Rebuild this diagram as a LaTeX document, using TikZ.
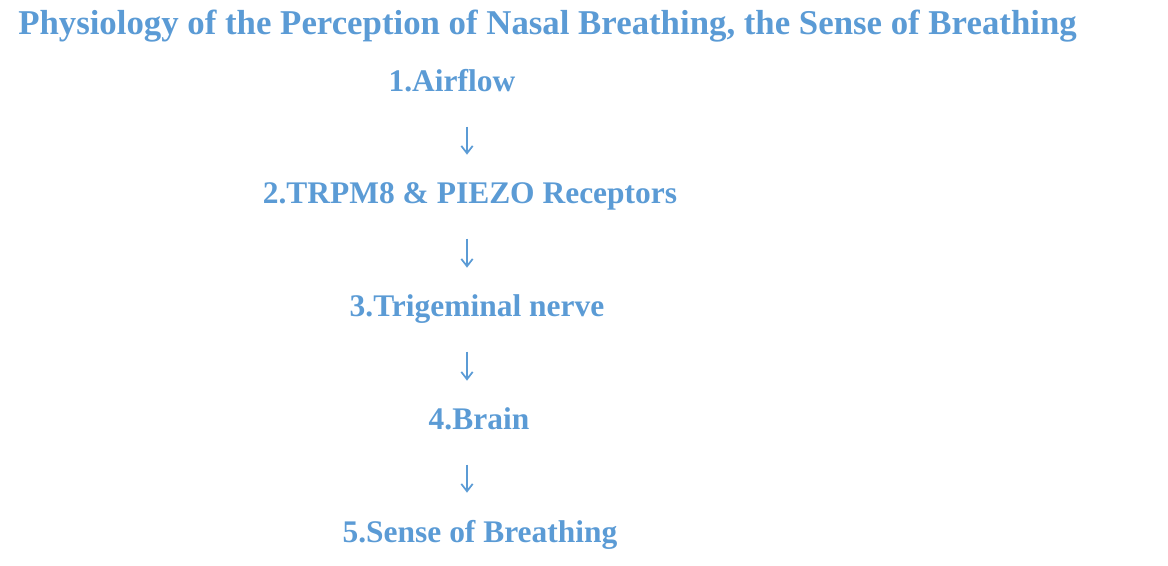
\documentclass[tikz,border=0pt]{standalone}
\usepackage{fontspec}
\setmainfont{Liberation Serif}
\usetikzlibrary{positioning, arrows.meta}
\definecolor{StepBlue}{RGB}{91,155,213}

\begin{document}
\begin{tikzpicture}[x=0.75pt,y=-0.75pt,
    steptext/.style={anchor=base,inner sep=0pt,text=StepBlue,font=\bfseries\fontsize{23.6}{27}\selectfont},
    flow/.style={draw=StepBlue,line width=1.3pt,-{Straight Barb[length=5.5pt,width=8.5pt,line width=1.3pt]}}]
  \useasboundingbox (0,0) rectangle (1168,566);
  \node[anchor=base west,inner sep=0pt,text=StepBlue,font=\bfseries\fontsize{26.1}{30}\selectfont] (title) at (18,35) {Physiology of the Perception of Nasal Breathing, the Sense of Breathing};
  \coordinate (axis) at (467,0);
  \node[steptext] (airflow) at (452,92) {1.Airflow};
  \node[steptext] (receptors) at (470,204) {2.TRPM8 \& PIEZO Receptors};
  \node[steptext] (nerve) at (477,317) {3.Trigeminal nerve};
  \node[steptext] (brain) at (479,430) {4.Brain};
  \node[steptext] (sense) at (480,542) {5.Sense of Breathing};
  % arrows between the steps
  \draw[flow,shorten <=26pt,shorten >=37pt] (airflow.base -| axis) -- (receptors.base -| axis);
  \draw[flow,shorten <=26pt,shorten >=37pt] (receptors.base -| axis) -- (nerve.base -| axis);
  \draw[flow,shorten <=26pt,shorten >=37pt] (nerve.base -| axis) -- (brain.base -| axis);
  \draw[flow,shorten <=26pt,shorten >=37pt] (brain.base -| axis) -- (sense.base -| axis);
\end{tikzpicture}
\end{document}
